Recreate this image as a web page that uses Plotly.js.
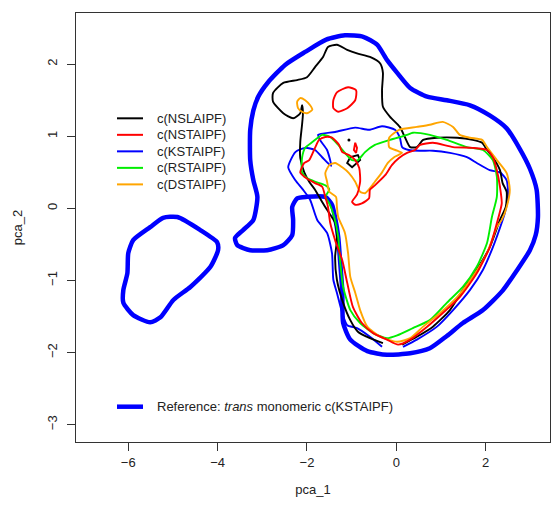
<!DOCTYPE html>
<html>
<head>
<meta charset="utf-8">
<script src="https://cdn.plot.ly/plotly-3.0.1.min.js"></script>
<style>html,body{margin:0;padding:0;background:#fff;}#chart{width:552px;height:508px;}</style>
</head>
<body>
<div id="chart"></div>
<script>
// ---- Contour data (pca_1, pca_2) ----
const refMainX = [-1.15,-0.74,-0.43,-0.21,0.02,0.31,0.69,1.13,1.65,2.09,2.47,2.76,2.99,3.14,3.17,3.12,2.99,2.70,2.38,1.94,1.49,1.13,0.75,0.31,-0.21,-0.65,-1.03,-1.19,-1.21,-1.26,-1.30,-1.37,-1.44,-1.59,-2.00,-2.22,-2.33,-2.31,-2.33,-2.53,-2.89,-3.27,-3.56,-3.61,-3.43,-3.20,-3.11,-3.20,-3.27,-3.27,-3.20,-3.09,-2.87,-2.49,-2.04,-1.57,-1.15];
const refMainY = [2.40,2.38,2.27,2.06,1.88,1.67,1.55,1.50,1.43,1.29,1.11,0.83,0.55,0.26,-0.12,-0.37,-0.58,-0.86,-1.14,-1.41,-1.59,-1.77,-1.94,-2.01,-2.03,-1.98,-1.82,-1.59,-1.14,-0.72,-0.40,-0.13,0.05,0.16,0.16,0.14,0.02,-0.16,-0.37,-0.51,-0.58,-0.58,-0.51,-0.41,-0.30,-0.16,0.16,0.39,0.67,1.09,1.36,1.55,1.75,1.99,2.17,2.34,2.40];
const refIslandX = [-4.90,-4.39,-4.01,-3.99,-4.16,-4.61,-4.99,-5.28,-5.51,-5.89,-6.11,-6.11,-6.02,-6.00,-5.89,-5.51,-5.22,-4.90];
const refIslandY = [-0.12,-0.30,-0.47,-0.58,-0.81,-1.09,-1.27,-1.51,-1.58,-1.48,-1.31,-1.13,-0.90,-0.62,-0.44,-0.26,-0.13,-0.12];

const nslaX = [-0.30,-0.59,-0.86,-1.03,-1.19,-1.33,-1.37,-1.33,-1.37,-1.55,-1.66,-1.82,-1.95,-2.06,-2.15,-2.15,-2.11,-2.09,-2.11,-2.15,-2.31,-2.53,-2.76,-2.76,-2.53,-2.22,-2.00,-1.82,-1.64,-1.53,-1.33,-1.10,-0.88,-0.59,-0.36,-0.30,-0.32,-0.30,-0.14,0.08,0.19,0.31,0.46,0.60,0.91,1.36,1.71,1.92,2.03,2.16,2.32,2.38,2.47,2.45,2.32,2.09,1.80,1.49,1.20,0.82,0.46,0.13];
const nslaY = [-1.87,-1.80,-1.71,-1.55,-1.31,-0.99,-0.67,-0.44,-0.20,-0.02,0.09,0.26,0.37,0.50,0.70,0.92,1.16,1.32,1.43,1.32,1.25,1.32,1.48,1.60,1.74,1.78,1.82,1.96,2.10,2.24,2.27,2.20,2.15,2.10,2.01,1.88,1.64,1.41,1.27,1.13,0.99,0.85,0.85,0.95,0.98,0.98,0.95,0.91,0.81,0.71,0.53,0.35,0.23,0.02,-0.16,-0.54,-0.85,-1.13,-1.41,-1.64,-1.78,-1.89];
const nslaLoopX = [-1.03,-0.86,-0.81,-0.99,-1.10,-1.03];
const nslaLoopY = [0.71,0.74,0.67,0.57,0.63,0.71];
const nslaDotX = [-1.06];
const nslaDotY = [0.95];

const nstaX = [-1.59,-1.44,-1.28,-1.21,-1.06,-0.92,-0.83,-0.81,-0.88,-0.99,-0.92,-0.77,-0.61,-0.59,-0.48,-0.25,-0.10,0.06,0.24,0.42,0.53,0.82,1.27,1.71,2.03,2.16,2.25,2.32,2.36,2.27,2.09,1.80,1.42,1.04,0.69,0.31,0.04,-0.21,-0.52,-0.77,-0.97,-1.10,-1.21,-1.37,-1.48,-1.53,-1.59,-1.66,-1.82,-2.06,-2.15,-2.06,-1.95,-1.82,-1.73,-1.59];
const nstaY = [0.99,0.98,0.88,0.78,0.74,0.67,0.56,0.37,0.19,0.09,0.05,0.07,0.14,0.26,0.32,0.46,0.60,0.70,0.77,0.81,0.88,0.91,0.85,0.84,0.81,0.71,0.53,0.30,0.07,-0.16,-0.54,-0.90,-1.23,-1.45,-1.64,-1.82,-1.89,-1.82,-1.73,-1.59,-1.37,-1.03,-0.72,-0.44,-0.20,0.02,0.16,0.30,0.35,0.44,0.50,0.63,0.67,0.84,0.95,0.99];
const nstaLoopX = [-1.41,-1.33,-1.08,-0.90,-0.92,-1.10,-1.30,-1.41,-1.41];
const nstaLoopY = [1.50,1.61,1.68,1.64,1.50,1.39,1.34,1.39,1.50];
const nstaTinyX = [-0.92,-0.88,-0.90,-0.95,-0.92];
const nstaTinyY = [0.91,0.84,0.77,0.81,0.91];

const kstaX = [-0.32,-0.59,-0.88,-1.10,-1.21,-1.33,-1.41,-1.44,-1.55,-1.77,-1.93,-2.09,-2.26,-2.42,-2.26,-2.04,-1.82,-1.66,-1.46,-1.55,-1.71,-1.75,-1.37,-0.92,-0.61,-0.32,-0.03,0.08,0.13,0.28,0.53,0.82,1.20,1.58,1.80,2.09,2.32,2.47,2.50,2.43,2.38,2.16,1.94,1.65,1.27,0.91,0.46,0.15];
const kstaY = [-1.92,-1.78,-1.66,-1.62,-1.45,-1.17,-0.99,-0.62,-0.34,-0.16,0.12,0.26,0.39,0.57,0.78,0.84,0.81,0.71,0.59,0.81,0.95,1.02,1.06,1.12,1.09,1.14,1.09,0.98,0.85,0.81,0.80,0.80,0.77,0.71,0.63,0.53,0.50,0.39,0.16,-0.06,-0.16,-0.54,-0.85,-1.13,-1.41,-1.64,-1.82,-1.92];

const rstaX = [-1.66,-1.48,-1.30,-1.15,-0.99,-0.86,-0.70,-0.48,-0.14,0.24,0.37,0.75,1.13,1.58,1.94,2.16,2.25,2.25,2.14,2.03,1.80,1.49,1.13,0.75,0.37,0.02,-0.21,-0.52,-0.81,-1.03,-1.19,-1.26,-1.30,-1.39,-1.50,-1.59,-1.50,-1.59,-1.82,-2.00,-2.11,-2.11,-2.04,-1.88,-1.66];
const rstaY = [1.02,0.99,0.88,0.77,0.67,0.67,0.78,0.88,0.95,1.02,1.05,1.02,0.95,0.85,0.81,0.67,0.44,0.16,-0.12,-0.48,-0.81,-1.09,-1.31,-1.55,-1.66,-1.76,-1.80,-1.73,-1.59,-1.41,-1.09,-0.72,-0.40,-0.12,0.07,0.16,0.26,0.32,0.37,0.42,0.50,0.70,0.84,0.92,1.02];

const dstaX = [0.06,0.46,0.75,1.04,1.27,1.42,1.65,1.92,2.03,2.25,2.47,2.54,2.47,2.36,2.25,2.03,1.71,1.36,0.98,0.60,0.31,0.02,-0.36,-0.65,-0.81,-0.92,-1.03,-1.08,-1.15,-1.30,-1.33,-1.35,-1.50,-1.55,-1.59,-1.50,-1.37,-1.21,-1.06,-0.92,-0.81,-0.70,-0.59,-0.48,-0.32,-0.19,-0.05,0.13,0.02,-0.16,-0.16,0.06];
const dstaY = [1.09,1.13,1.16,1.20,1.13,1.02,0.98,0.95,0.85,0.67,0.49,0.26,0.02,-0.16,-0.26,-0.62,-0.95,-1.23,-1.45,-1.64,-1.80,-1.85,-1.78,-1.64,-1.41,-1.17,-0.95,-0.62,-0.34,-0.12,0.02,0.16,0.23,0.37,0.49,0.60,0.63,0.57,0.49,0.37,0.23,0.21,0.28,0.37,0.50,0.63,0.71,0.77,0.80,0.85,0.98,1.09];
const dstaLoopX = [-2.22,-2.15,-2.04,-1.93,-1.88,-2.00,-2.11,-2.20,-2.22];
const dstaLoopY = [1.48,1.53,1.50,1.43,1.37,1.32,1.34,1.39,1.48];

const legendNames = ["c(NSLAIPF)","c(NSTAIPF)","c(KSTAIPF)","c(RSTAIPF)","c(DSTAIPF)"];
const legendColors = ["#000000","#ff0000","#0000ff","#00ee00","#ffa500"];
const refLabel = "Reference: <i>trans</i> monomeric c(KSTAIPF)";
const xTicks = [-6,-4,-2,0,2];
const yTicks = [-3,-2,-1,0,1,2];

// ---- traces ----
function line(x, y, color, width, shape) {
  return {x: x, y: y, mode: 'lines', type: 'scatter', hoverinfo: 'skip', showlegend: false,
          line: {color: color, width: width, shape: shape || 'spline', smoothing: 0.6}};
}
const thin = 1.9;
const traces = [
  line(refMainX, refMainY, '#0000ff', 4.5, 'spline'),
  line(refIslandX, refIslandY, '#0000ff', 4.5, 'spline'),
  line(kstaX, kstaY, legendColors[2], thin),
  line(nslaX, nslaY, legendColors[0], thin),
  line(nslaLoopX, nslaLoopY, legendColors[0], thin, 'linear'),
  {x: nslaDotX, y: nslaDotY, mode: 'markers', type: 'scatter', hoverinfo: 'skip', showlegend: false,
   marker: {color: '#000', size: 3}},
  line(rstaX, rstaY, legendColors[3], thin),
  line(dstaX, dstaY, legendColors[4], thin),
  line(dstaLoopX, dstaLoopY, legendColors[4], thin),
  line(nstaX, nstaY, legendColors[1], thin),
  line(nstaLoopX, nstaLoopY, legendColors[1], thin),
  line(nstaTinyX, nstaTinyY, legendColors[1], thin, 'linear')
];

// ---- legend (drawn inside the plot, like R's legend()) ----
const shapes = [], annotations = [];
const legY0 = 0.7545, legStep = 0.0385;
const lx0 = 0.0865, lx1 = 0.1414, tx = 0.1667;
legendNames.forEach((n, i) => {
  const yy = legY0 - i * legStep;
  shapes.push({type: 'line', xref: 'paper', yref: 'paper', x0: lx0, x1: lx1, y0: yy, y1: yy,
               line: {color: legendColors[i], width: 2}});
  annotations.push({xref: 'paper', yref: 'paper', x: tx, y: yy, xanchor: 'left', yanchor: 'middle',
                    text: n, showarrow: false, font: {size: 13, color: '#222'}});
});
const refY = 0.0823;
shapes.push({type: 'line', xref: 'paper', yref: 'paper', x0: lx0, x1: lx1, y0: refY, y1: refY,
             line: {color: '#0000ff', width: 4.5}});
annotations.push({xref: 'paper', yref: 'paper', x: tx, y: refY, xanchor: 'left', yanchor: 'middle',
                  text: refLabel, showarrow: false, font: {size: 13, color: '#222'}});

const axisCommon = {showgrid: false, zeroline: false, showline: true, mirror: true, linecolor: '#333',
                    linewidth: 1, ticks: 'outside', ticklen: 8, tickcolor: '#333', tickwidth: 1,
                    tickfont: {size: 13, color: '#222'}};
const layout = {
  width: 552, height: 508,
  margin: {l: 76, r: 2, t: 13, b: 66},
  paper_bgcolor: '#fff', plot_bgcolor: '#fff',
  font: {family: 'Liberation Sans, Arial, Helvetica, sans-serif', size: 13, color: '#222'},
  showlegend: false,
  xaxis: Object.assign({}, axisCommon, {range: [-7.17, 3.44], tickvals: xTicks,
          title: {text: 'pca_1', font: {size: 13, color: '#222'}, standoff: 16}}),
  yaxis: Object.assign({}, axisCommon, {range: [-3.24, 2.71], tickvals: yTicks, tickangle: -90,
          ticklabelstandoff: 5,
          title: {text: 'pca_2', font: {size: 13, color: '#222'}, standoff: 19}}),
  shapes: shapes,
  annotations: annotations
};
Plotly.newPlot('chart', traces, layout, {staticPlot: true, displayModeBar: false});
</script>
</body>
</html>
